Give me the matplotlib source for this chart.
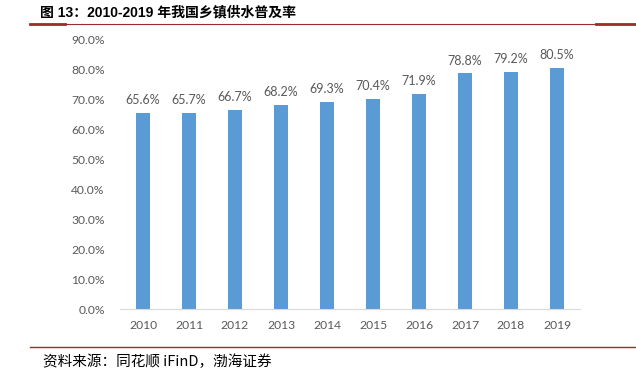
import matplotlib.pyplot as plt
from matplotlib.lines import Line2D

years = ['2010', '2011', '2012', '2013', '2014', '2015', '2016', '2017', '2018', '2019']
coverage = [65.6, 65.7, 66.7, 68.2, 69.3, 70.4, 71.9, 78.8, 79.2, 80.5]
y_ticks = [0, 10, 20, 30, 40, 50, 60, 70, 80, 90]

TITLE = '图 13：2010-2019 年我国乡镇供水普及率'
SOURCE = '资料来源：同花顺 iFinD，渤海证券'

BAR_BLUE = '#5B9BD5'
TEXT_GREY = '#595959'
RULE_RED = '#9E2A2B'

W, H = 636, 370
plt.rcParams['font.family'] = ['Lato', 'Noto Sans CJK SC', 'DejaVu Sans']

fig = plt.figure(figsize=(W / 100, H / 100), dpi=100)
ax = fig.add_axes([120 / W, 1 - 309 / H, 460 / W, 269 / H])

x = range(len(years))
bars = ax.bar(x, coverage, width=0.30, color=BAR_BLUE)
for rect, val in zip(bars, coverage):
    ax.annotate(f'{val:.1f}%', (rect.get_x() + rect.get_width() / 2, val),
                xytext=(0, 5), textcoords='offset points',
                ha='center', va='bottom', fontsize=9, color=TEXT_GREY)

ax.set_xlim(-0.5, len(years) - 0.5)
ax.set_ylim(0, 90)
ax.set_xticks(list(x))
ax.set_xticklabels(years)
ax.set_yticks(y_ticks)
ax.set_yticklabels([f'{t:.1f}%' for t in y_ticks])
ax.tick_params(axis='both', length=0, labelsize=8.7, labelcolor=TEXT_GREY)
ax.tick_params(axis='y', pad=11)
ax.tick_params(axis='x', pad=8)
for side in ['top', 'right', 'left']:
    ax.spines[side].set_visible(False)
ax.spines['bottom'].set_color('#D9D9D9')

# header / footer rules
def hline(x0, x1, y, lw):
    fig.add_artist(Line2D([x0 / W, x1 / W], [1 - y / H, 1 - y / H],
                          color=RULE_RED, lw=lw, transform=fig.transFigure))

hline(30, 636, 24, 0.8)
hline(30, 65, 24, 2.0)
hline(596, 636, 24, 2.0)
hline(30, 636, 347, 1.0)

fig.text(40 / W, 1 - 12 / H, TITLE, fontsize=10, fontweight='bold',
         family=['Liberation Sans', 'Noto Sans CJK SC'], va='center', ha='left')
fig.text(43 / W, 1 - 362 / H, SOURCE, fontsize=10.5, style='italic',
         family=['Noto Sans CJK SC', 'DejaVu Sans'], va='center', ha='left')

fig.savefig('out.png', dpi=100)
